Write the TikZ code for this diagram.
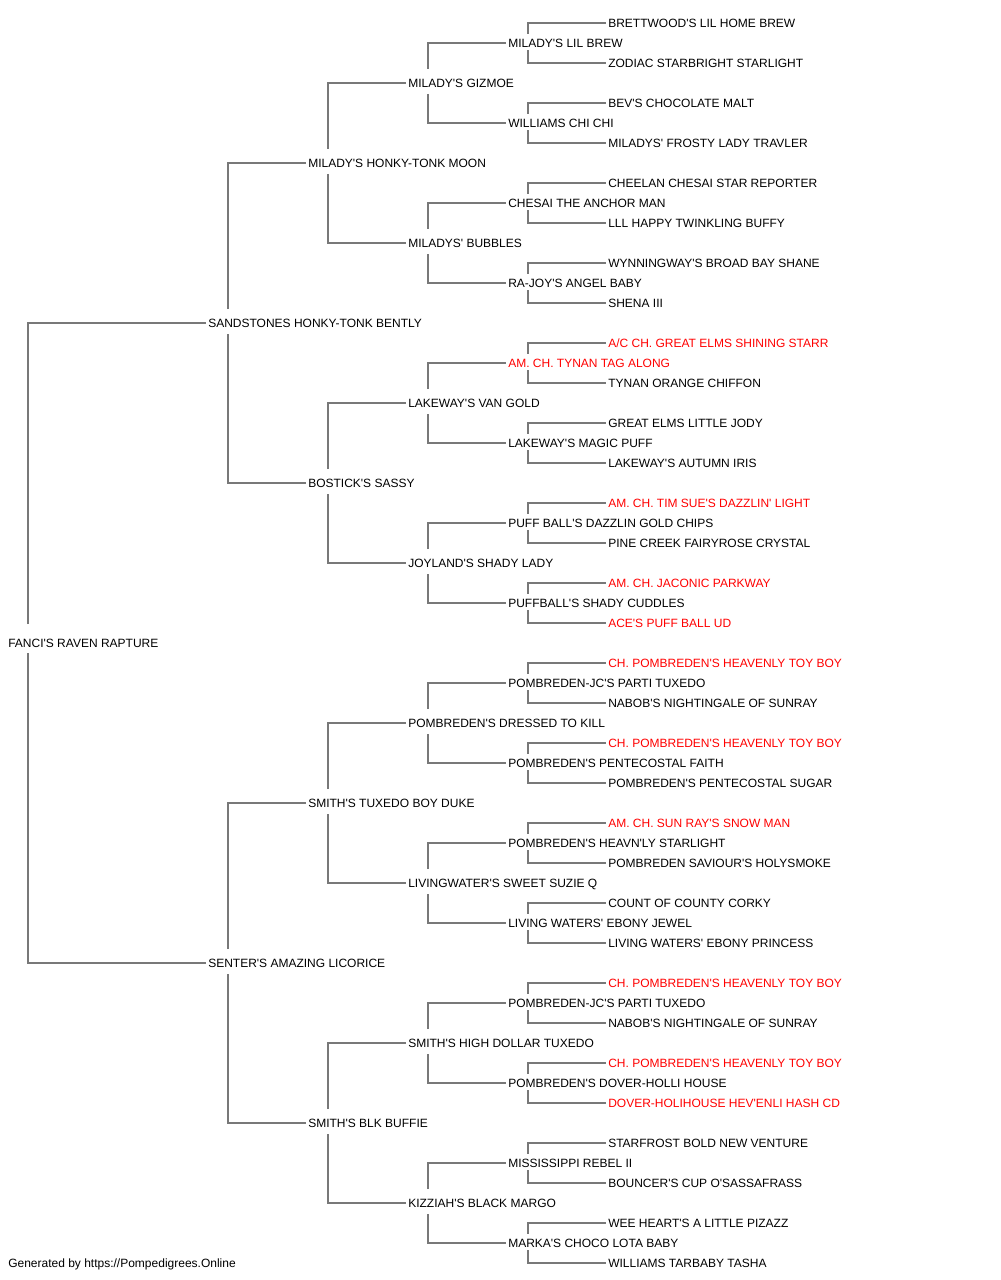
\documentclass[tikz,border=0pt]{standalone}
\usepackage{fontspec}
\newfontfamily\labfont{Liberation Sans}
\definecolor{linegray}{RGB}{120,120,120}
\definecolor{hired}{RGB}{255,0,0}
\tikzset{
  lab/.style={anchor=west,inner sep=0pt,text height=6.5pt,text depth=0pt,
    font=\labfont\fontsize{9}{10}\selectfont,text=black},
  hl/.style={lab,text=hired},
  conn/.style={draw=linegray,line width=1.1pt}
}
\begin{document}
\begin{tikzpicture}[x=0.75pt,y=-0.75pt]
\useasboundingbox (0,0) rectangle (1000,1280);
% generation 0
\node[lab] (g0-1) at (8,643) {FANCI'S RAVEN RAPTURE};
% generation 1
\node[lab] (g1-1) at (208,323) {SANDSTONES HONKY-TONK BENTLY};
\node[lab] (g1-2) at (208,963) {SENTER'S AMAZING LICORICE};
% generation 2
\node[lab] (g2-1) at (308,163) {MILADY'S HONKY-TONK MOON};
\node[lab] (g2-2) at (308,483) {BOSTICK'S SASSY};
\node[lab] (g2-3) at (308,803) {SMITH'S TUXEDO BOY DUKE};
\node[lab] (g2-4) at (308,1123) {SMITH'S BLK BUFFIE};
% generation 3
\node[lab] (g3-1) at (408,83) {MILADY'S GIZMOE};
\node[lab] (g3-2) at (408,243) {MILADYS' BUBBLES};
\node[lab] (g3-3) at (408,403) {LAKEWAY'S VAN GOLD};
\node[lab] (g3-4) at (408,563) {JOYLAND'S SHADY LADY};
\node[lab] (g3-5) at (408,723) {POMBREDEN'S DRESSED TO KILL};
\node[lab] (g3-6) at (408,883) {LIVINGWATER'S SWEET SUZIE Q};
\node[lab] (g3-7) at (408,1043) {SMITH'S HIGH DOLLAR TUXEDO};
\node[lab] (g3-8) at (408,1203) {KIZZIAH'S BLACK MARGO};
% generation 4
\node[lab] (g4-1) at (508,43) {MILADY'S LIL BREW};
\node[lab] (g4-2) at (508,123) {WILLIAMS CHI CHI};
\node[lab] (g4-3) at (508,203) {CHESAI THE ANCHOR MAN};
\node[lab] (g4-4) at (508,283) {RA-JOY'S ANGEL BABY};
\node[hl]  (g4-5) at (508,363) {AM. CH. TYNAN TAG ALONG};
\node[lab] (g4-6) at (508,443) {LAKEWAY'S MAGIC PUFF};
\node[lab] (g4-7) at (508,523) {PUFF BALL'S DAZZLIN GOLD CHIPS};
\node[lab] (g4-8) at (508,603) {PUFFBALL'S SHADY CUDDLES};
\node[lab] (g4-9) at (508,683) {POMBREDEN-JC'S PARTI TUXEDO};
\node[lab] (g4-10) at (508,763) {POMBREDEN'S PENTECOSTAL FAITH};
\node[lab] (g4-11) at (508,843) {POMBREDEN'S HEAVN'LY STARLIGHT};
\node[lab] (g4-12) at (508,923) {LIVING WATERS' EBONY JEWEL};
\node[lab] (g4-13) at (508,1003) {POMBREDEN-JC'S PARTI TUXEDO};
\node[lab] (g4-14) at (508,1083) {POMBREDEN'S DOVER-HOLLI HOUSE};
\node[lab] (g4-15) at (508,1163) {MISSISSIPPI REBEL II};
\node[lab] (g4-16) at (508,1243) {MARKA'S CHOCO LOTA BABY};
% generation 5
\node[lab] (g5-1) at (608,23) {BRETTWOOD'S LIL HOME BREW};
\node[lab] (g5-2) at (608,63) {ZODIAC STARBRIGHT STARLIGHT};
\node[lab] (g5-3) at (608,103) {BEV'S CHOCOLATE MALT};
\node[lab] (g5-4) at (608,143) {MILADYS' FROSTY LADY TRAVLER};
\node[lab] (g5-5) at (608,183) {CHEELAN CHESAI STAR REPORTER};
\node[lab] (g5-6) at (608,223) {LLL HAPPY TWINKLING BUFFY};
\node[lab] (g5-7) at (608,263) {WYNNINGWAY'S BROAD BAY SHANE};
\node[lab] (g5-8) at (608,303) {SHENA III};
\node[hl]  (g5-9) at (608,343) {A/C CH. GREAT ELMS SHINING STARR};
\node[lab] (g5-10) at (608,383) {TYNAN ORANGE CHIFFON};
\node[lab] (g5-11) at (608,423) {GREAT ELMS LITTLE JODY};
\node[lab] (g5-12) at (608,463) {LAKEWAY'S AUTUMN IRIS};
\node[hl]  (g5-13) at (608,503) {AM. CH. TIM SUE'S DAZZLIN' LIGHT};
\node[lab] (g5-14) at (608,543) {PINE CREEK FAIRYROSE CRYSTAL};
\node[hl]  (g5-15) at (608,583) {AM. CH. JACONIC PARKWAY};
\node[hl]  (g5-16) at (608,623) {ACE'S PUFF BALL UD};
\node[hl]  (g5-17) at (608,663) {CH. POMBREDEN'S HEAVENLY TOY BOY};
\node[lab] (g5-18) at (608,703) {NABOB'S NIGHTINGALE OF SUNRAY};
\node[hl]  (g5-19) at (608,743) {CH. POMBREDEN'S HEAVENLY TOY BOY};
\node[lab] (g5-20) at (608,783) {POMBREDEN'S PENTECOSTAL SUGAR};
\node[hl]  (g5-21) at (608,823) {AM. CH. SUN RAY'S SNOW MAN};
\node[lab] (g5-22) at (608,863) {POMBREDEN SAVIOUR'S HOLYSMOKE};
\node[lab] (g5-23) at (608,903) {COUNT OF COUNTY CORKY};
\node[lab] (g5-24) at (608,943) {LIVING WATERS' EBONY PRINCESS};
\node[hl]  (g5-25) at (608,983) {CH. POMBREDEN'S HEAVENLY TOY BOY};
\node[lab] (g5-26) at (608,1023) {NABOB'S NIGHTINGALE OF SUNRAY};
\node[hl]  (g5-27) at (608,1063) {CH. POMBREDEN'S HEAVENLY TOY BOY};
\node[hl]  (g5-28) at (608,1103) {DOVER-HOLIHOUSE HEV'ENLI HASH CD};
\node[lab] (g5-29) at (608,1143) {STARFROST BOLD NEW VENTURE};
\node[lab] (g5-30) at (608,1183) {BOUNCER'S CUP O'SASSAFRASS};
\node[lab] (g5-31) at (608,1223) {WEE HEART'S A LITTLE PIZAZZ};
\node[lab] (g5-32) at (608,1263) {WILLIAMS TARBABY TASHA};
% footer
\node[lab] (foot) at (8,1263) {Generated by https://Pompedigrees.Online};
% connectors
\foreach \g/\n/\tg/\bg in {0/1/14.25pt/7.5pt,1/2/10.5pt/8.25pt,2/4/10.5pt/8.25pt,3/8/10.5pt/8.25pt,4/16/7.1pt/5.6pt}{
  \foreach \i in {1,...,\n}{
    \pgfmathtruncatemacro\h{\g+1}
    \pgfmathtruncatemacro\ca{2*\i-1}
    \pgfmathtruncatemacro\cb{2*\i}
    \draw[conn] ([xshift=15pt,yshift=\tg]g\g-\i.west) |- ([xshift=-1.5pt]g\h-\ca.west);
    \draw[conn] ([xshift=15pt,yshift=-\bg]g\g-\i.west) |- ([xshift=-1.5pt]g\h-\cb.west);
  }
}
\end{tikzpicture}
\end{document}
